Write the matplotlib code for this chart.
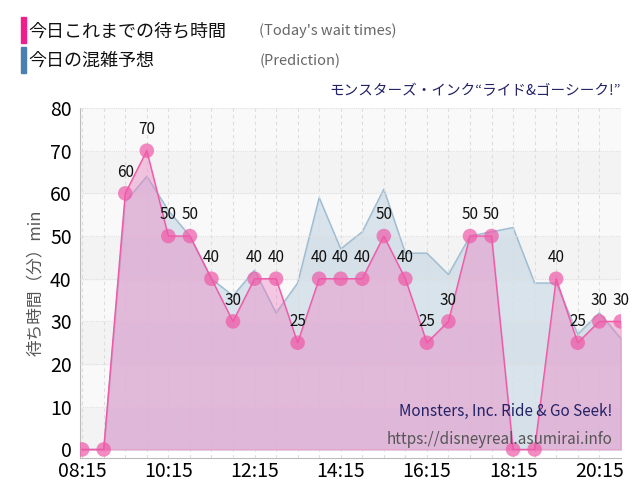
import matplotlib
matplotlib.use("Agg")
import matplotlib.pyplot as plt
import numpy as np

plt.rcParams['font.family'] = ['Noto Sans CJK JP', 'DejaVu Sans']

times = ["08:15","08:45","09:15","09:45","10:15","10:45","11:15","11:45","12:15","12:45",
         "13:15","13:45","14:15","14:45","15:15","15:45","16:15","16:45","17:15","17:45",
         "18:15","18:45","19:15","19:45","20:15","20:45"]
actual = [0,0,60,70,50,50,40,30,40,40,25,40,40,40,50,40,25,30,50,50,0,0,40,25,30,30]
predict = [0,0,58,64,56,50,40,36,42,32,39,59,47,51,61,46,46,41,50,51,52,39,39,27,32,26]
tick_labels = ["08:15","10:15","12:15","14:15","16:15","18:15","20:15"]

x = np.arange(len(times))
fig = plt.figure(figsize=(6.4,5.0), dpi=100)
ax = fig.add_axes([0.125, 0.084, 0.845, 0.70])
for i in range(8):
    ax.axhspan(i*10, (i+1)*10, color='#f3f3f3' if i % 2 == 0 else '#f9f9f9', zorder=0)
ax.fill_between(x, predict, color='#b8cede', alpha=0.5, zorder=1)
ax.plot(x, predict, color='#9fbcd2', lw=1, zorder=2)
ax.fill_between(x, actual, color='#f07ac0', alpha=0.4, zorder=3)
ax.plot(x, actual, color='#ee5aa8', lw=1, zorder=4)
ax.scatter(x, actual, s=110, color='#ee5aa8', alpha=0.7, zorder=5, edgecolors='none')
for xi, v in zip(x, actual):
    if v > 0:
        ax.text(xi, v+3, str(v), ha='center', va='bottom', fontsize=11, color='#111', zorder=6)
ax.set_xlim(-0.1, len(times)-1)
ax.set_ylim(-2, 80)
ax.set_yticks(range(0, 81, 10))
ax.set_xticks([times.index(t) for t in tick_labels])
ax.set_xticklabels(tick_labels)
ax.set_xticks(x, minor=True)
ax.tick_params(axis='both', labelsize=14, length=0, which='both')
ax.tick_params(axis='x', pad=2)
ax.tick_params(axis='y', pad=6)
ax.grid(axis='x', which='both', color='#dddddd', ls=(0,(3,3)), lw=0.8)
ax.grid(axis='y', color='#e0e0e0', ls=(0,(1,1)), lw=0.8)
ax.set_axisbelow(False)
for s in ['top','right']:
    ax.spines[s].set_visible(False)
ax.spines['left'].set_color('#bbbbbb')
ax.spines['bottom'].set_color('#bbbbbb')
ax.set_ylabel('待ち時間（分）min', fontsize=12, color='#555')
ax.text(0.985, 0.12, 'Monsters, Inc. Ride & Go Seek!', transform=ax.transAxes, ha='right',
        fontsize=11, color='#222266', zorder=7)
ax.text(0.985, 0.04, 'https://disneyreal.asumirai.info', transform=ax.transAxes, ha='right',
        fontsize=11, color='#555555', zorder=7)
fig.text(0.97, 0.81, 'モンスターズ・インク“ライド&ゴーシーク!”', ha='right', fontsize=10.5, color='#222266')
fig.patches.append(matplotlib.patches.Rectangle((0.0325, 0.915), 0.008, 0.05, color='#ee1e8c', transform=fig.transFigure))
fig.patches.append(matplotlib.patches.Rectangle((0.0325, 0.855), 0.008, 0.05, color='#4a7fb0', transform=fig.transFigure))
fig.text(0.045, 0.938, '今日これまでの待ち時間', fontsize=13, va='center', color='#111')
fig.text(0.045, 0.878, '今日の混雑予想', fontsize=13, va='center', color='#111')
fig.text(0.405, 0.938, "(Today's wait times)", fontsize=10.5, va='center', color='#666')
fig.text(0.405, 0.878, "(Prediction)", fontsize=10.5, va='center', color='#666')
fig.savefig('out.png', dpi=100)
